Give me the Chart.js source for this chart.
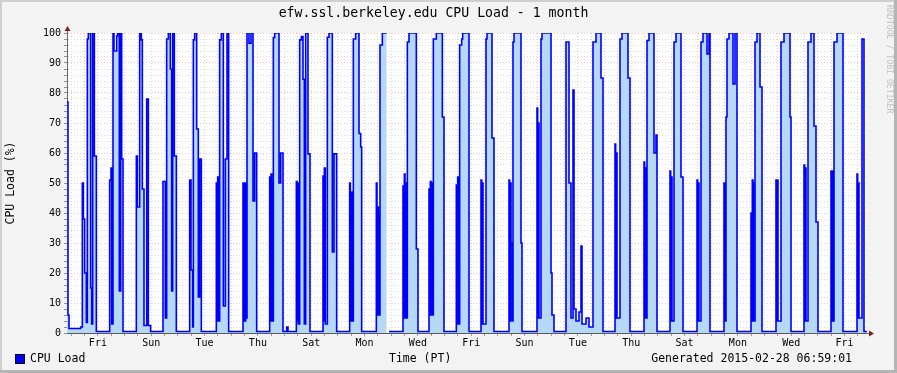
<!DOCTYPE html>
<html>
<head>
<meta charset="utf-8">
<script src="https://cdn.jsdelivr.net/npm/chart.js@4.4.1/dist/chart.umd.min.js"></script>
<style>
html, body { margin: 0; padding: 0; background: #f3f3f3; }
canvas { display: block; }
</style>
</head>
<body>
<canvas id="cpuChart" width="897" height="373"></canvas>
<script>
"use strict";
// hours since the left edge of the graph (30 days = 720 h), value starts at that hour
const hours = [
    0, 0.9, 1.8, 12.3, 13.8, 14.7, 15.9, 17.4, 18.3, 19.2, 21.3, 22.2, 23.1, 24.6, 26.4,
    38.4, 39.6, 40.2, 41.4, 42.3, 44.7, 45.6, 47.1, 48.3, 49.2, 50.4,
    62.4, 63.3, 65.4, 66.9, 67.8, 69.3, 71.7, 73.2, 75.3,
    86.4, 88.5, 89.7, 91.2, 93.0, 94.2, 95.1, 96.6, 98.4,
    110.4, 111.6, 113.1, 113.7, 114.9, 116.7, 118.2, 119.4, 120.9,
    134.4, 135.0, 135.6, 136.2, 137.4, 138.9, 140.7, 142.5, 144.0, 145.5,
    158.4, 159.0, 159.6, 160.2, 160.8, 161.4, 162.0, 163.8, 165.6, 167.4, 168.9, 170.7,
    182.4, 183.0, 183.6, 184.2, 184.8, 185.2, 185.7, 186.9, 190.8, 192.3, 194.4, 197.7, 198.9,
    206.4, 207.0, 207.6, 208.2, 209.4, 210.9, 212.4, 213.6, 214.8, 216.9, 218.7,
    230.4, 231.0, 231.6, 232.5, 234.3, 235.8, 238.8, 240.3, 242.7,
    254.4, 255.0, 255.6, 256.5, 257.7, 259.8, 262.8, 264.3, 265.2,
    278.4, 279.0, 279.6, 280.2, 280.8, 281.2, 281.7, 283.8, 287.7, 287.8, 289.8,
    302.4, 303.0, 303.6, 304.2, 304.8, 305.4, 306.3, 307.8, 314.4, 315.9,
    325.8, 326.4, 327.0, 327.6, 328.2, 328.8, 329.7, 332.4, 337.8, 339.3,
    350.4, 351.0, 351.6, 352.2, 353.4, 355.2, 356.1, 361.8,
    372.6, 373.2, 373.8, 374.4, 377.1, 378.0, 382.5, 384.3,
    397.8, 398.4, 399.0, 399.6, 400.5, 401.4, 402.3, 408.6, 409.5,
    423.0, 423.6, 424.2, 424.8, 426.6, 427.5, 435.6, 436.5, 438.3,
    449.1, 451.8, 453.6, 455.4, 456.3, 458.1, 460.8, 462.6, 463.5, 467.1, 469.8,
    473.4, 476.1, 480.6, 482.4,
    493.2, 493.8, 494.4, 495.0, 497.7, 499.5, 504.9, 506.7,
    519.3, 519.9, 520.5, 521.1, 522.0, 523.8, 528.3, 530.1, 531.0,
    542.7, 543.3, 543.9, 544.5, 546.3, 548.1, 552.6, 554.4,
    567.0, 567.6, 568.2, 568.8, 570.6, 572.4, 576.0, 577.8, 578.7,
    591.3, 591.9, 593.1, 594.0, 595.8, 599.4, 601.2, 603.0,
    615.6, 616.2, 616.8, 617.4, 618.0, 618.6, 619.2, 621.0, 623.7, 625.5,
    638.1, 638.7, 639.3, 639.9, 642.6, 645.3, 650.7, 651.6,
    663.3, 663.9, 664.5, 665.1, 666.9, 669.6, 672.3, 674.1, 675.9,
    687.6, 688.2, 688.8, 689.4, 690.3, 693.0, 698.4,
    711.0, 711.6, 712.2, 712.8, 715.5, 717.3, 720
];
const load = [
    77, 6, 1.5, 2, 50, 38, 20, 3.5, 98, 100, 15, 3, 100, 59, 0.5,
    51, 55, 3, 100, 94, 99, 100, 14, 100, 58, 0.5,
    59, 42, 100, 97.7, 48, 2.5, 78, 2.5, 0.5,
    50.5, 5, 98, 100, 88, 14, 100, 59, 0.5,
    51, 21, 2, 97.7, 100, 68, 12, 58, 0.5,
    50, 4, 52, 4, 97.7, 100, 9, 58, 100, 0.5,
    50, 4, 50, 4, 50, 5, 100, 96.6, 100, 44, 60, 0.5,
    52, 4, 53, 4, 50, 4, 98.5, 100, 50, 60, 0.5, 2, 0.5,
    50.5, 4, 50, 3, 97.7, 98.8, 84.6, 3, 100, 59.7, 0.5,
    52.3, 4, 55, 3, 98.6, 100, 27, 59.7, 0.5,
    50, 4, 47, 4, 98, 100, 66.5, 62, 0.5,
    50, 6, 42, 6, 40, 6, 96, 100, 100, null, 0.5,
    49, 5, 53, 5, 50, 5, 97, 100, 28, 0.5,
    48, 6, 50.5, 6, 50, 6, 98, 100, 72, 0.5,
    49.3, 3, 52, 3, 96, 98, 100, 0.5,
    51, 3, 50, 3, 98, 100, 65, 0.5,
    51, 4, 50, 30, 4, 97, 100, 30, 0.5,
    75, 5, 70, 5, 98, 100, 20, 6, 0.5,
    97, 50, 5, 81, 8, 4, 7, 29, 3, 5, 2,
    97, 100, 85, 0.5,
    63, 5, 60, 5, 98, 100, 85, 0.5,
    57, 5, 55, 5, 97.5, 100, 60, 66, 0.5,
    54, 4, 52, 4, 97, 100, 52, 0.5,
    51, 4, 50, 4, 97, 100, 93, 100, 0.5,
    50, 4, 72, 98, 100, 83, 100, 0.5,
    40, 4, 51, 4, 50, 4, 97, 100, 82, 0.5,
    51, 4, 51, 4, 97, 100, 72, 0.5,
    56, 4, 55, 4, 97, 100, 69, 37, 0.5,
    54, 4, 54, 4, 97, 100, 0.5,
    53, 5, 50, 5, 98, 0.5, 0.5
];
const dayLabels = ['Fri', 'Sun', 'Tue', 'Thu', 'Sat', 'Mon', 'Wed', 'Fri', 'Sun', 'Tue', 'Thu', 'Sat', 'Mon', 'Wed', 'Fri'];
const spanHours = 720;
const firstMidnight = 15.8;

const MONO = "'DejaVu Sans Mono', monospace";

const xTicks = [];
for (let v = firstMidnight - 12; v <= spanHours; v += 12) xTicks.push(v);
const yTicks = [];
for (let v = 0; v <= 100; v += 2) yTicks.push(v);

function halfDayIndex(v) {
    return Math.round((v - firstMidnight) / 12);
}
function isMidnight(v) {
    return halfDayIndex(v) % 2 === 0;
}

const rrdFrame = {
    id: 'rrdFrame',
    beforeDraw(chart) {
        const ctx = chart.ctx, a = chart.chartArea, w = chart.width, h = chart.height;
        ctx.save();
        ctx.fillStyle = '#f3f3f3';
        ctx.fillRect(0, 0, w, h);
        ctx.fillStyle = '#cfcfcf';
        ctx.fillRect(0, 0, w, 2);
        ctx.fillRect(0, 0, 2, h);
        ctx.fillStyle = '#b4b4b4';
        ctx.fillRect(w - 3, 0, 3, h);
        ctx.fillRect(0, h - 3, w, 3);
        ctx.fillStyle = '#ffffff';
        ctx.fillRect(a.left, a.top, a.right - a.left, a.bottom - a.top);
        ctx.restore();
    },
    afterDraw(chart) {
        const ctx = chart.ctx, a = chart.chartArea;
        ctx.save();
        // axis arrows
        ctx.strokeStyle = '#6a6a6a';
        ctx.lineWidth = 1;
        ctx.beginPath();
        ctx.moveTo(a.left + 0.5, a.top - 4);
        ctx.lineTo(a.left + 0.5, a.top);
        ctx.moveTo(a.right, a.bottom + 0.5);
        ctx.lineTo(a.right + 4, a.bottom + 0.5);
        ctx.stroke();
        ctx.fillStyle = '#7f1f1f';
        ctx.beginPath();
        ctx.moveTo(a.left - 2.5, a.top - 2);
        ctx.lineTo(a.left + 3.5, a.top - 2);
        ctx.lineTo(a.left + 0.5, a.top - 7);
        ctx.closePath();
        ctx.fill();
        ctx.beginPath();
        ctx.moveTo(a.right + 2, a.bottom - 2.5);
        ctx.lineTo(a.right + 2, a.bottom + 3.5);
        ctx.lineTo(a.right + 7, a.bottom + 0.5);
        ctx.closePath();
        ctx.fill();

        // legend row
        ctx.font = '11.5px ' + MONO;
        ctx.textBaseline = 'middle';
        ctx.fillStyle = '#0000ff';
        ctx.fillRect(15, 354, 10, 10);
        ctx.strokeStyle = '#000';
        ctx.strokeRect(15.5, 354.5, 9, 9);
        ctx.fillStyle = '#000';
        ctx.textAlign = 'left';
        ctx.fillText('CPU Load', 30, 359);
        ctx.fillText('Time (PT)', 389, 359);
        ctx.textAlign = 'right';
        ctx.fillText('Generated 2015-02-28 06:59:01', 852, 359);

        // watermark
        ctx.translate(889, 5);
        ctx.rotate(Math.PI / 2);
        ctx.font = '8.2px ' + MONO;
        ctx.fillStyle = '#c2c2c2';
        ctx.textAlign = 'left';
        ctx.fillText('RRDTOOL / TOBI OETIKER', 0, 0);
        ctx.restore();
    }
};

const canvas = document.getElementById('cpuChart');
const ctx = canvas.getContext('2d');

const points = hours.map((h, i) => ({ x: h, y: load[i] }));

new Chart(ctx, {
    type: 'line',
    data: {
        datasets: [{
            label: 'CPU Load',
            data: points,
            stepped: 'before',
            borderColor: '#0000ff',
            borderWidth: 1.6,
            backgroundColor: '#b5d8f7',
            fill: 'origin',
            pointRadius: 0,
            spanGaps: false
        }]
    },
    options: {
        responsive: false,
        animation: false,
        devicePixelRatio: 1,
        layout: {
            padding: { left: 0, top: 0, right: 30, bottom: 20 }
        },
        plugins: {
            legend: { display: false },
            tooltip: { enabled: false },
            title: {
                display: true,
                text: 'efw.ssl.berkeley.edu CPU Load - 1 month',
                color: '#000',
                font: { family: MONO, size: 13.2, weight: 'normal' },
                padding: { top: 6, bottom: 11.16 }
            }
        },
        scales: {
            x: {
                type: 'linear',
                min: 0,
                max: spanHours,
                afterBuildTicks: s => { s.ticks = xTicks.map(v => ({ value: v })); },
                afterFit: s => { s.height = 20; },
                ticks: {
                    autoSkip: false,
                    maxRotation: 0,
                    padding: 1,
                    color: '#000',
                    font: { family: MONO, size: 10 },
                    callback: v => {
                        const k = halfDayIndex(v);
                        return (k >= 1 && k % 4 === 1) ? dayLabels[(k - 1) / 4] : '';
                    }
                },
                grid: {
                    color: c => (c.tick && isMidnight(c.tick.value)) ? '#f1c4c4' : '#d9d9d9',
                    tickColor: c => (c.tick && isMidnight(c.tick.value)) ? '#d88080' : '#a0a0a0',
                    tickLength: 3,
                    lineWidth: 1
                },
                border: {
                    display: true,
                    color: '#5a5a5a',
                    width: 1,
                    dash: [1, 2]
                }
            },
            y: {
                min: 0,
                max: 100,
                afterBuildTicks: s => { s.ticks = yTicks.map(v => ({ value: v })); },
                afterFit: s => { s.width = 67; },
                ticks: {
                    autoSkip: false,
                    padding: 3,
                    color: '#000',
                    font: { family: MONO, size: 10 },
                    callback: v => (v % 10 === 0 ? String(v) : '')
                },
                grid: {
                    color: c => (c.tick && c.tick.value % 10 === 0) ? '#f1c4c4' : '#dedede',
                    tickColor: '#909090',
                    tickLength: 3,
                    lineWidth: 1
                },
                border: {
                    display: true,
                    color: '#6a6a6a',
                    width: 1,
                    dash: [1, 2]
                },
                title: {
                    display: true,
                    text: 'CPU Load (%)',
                    color: '#000',
                    font: { family: MONO, size: 11.5 },
                    padding: { top: 4, bottom: 0 }
                }
            }
        }
    },
    plugins: [rrdFrame]
});
</script>
</body>
</html>
